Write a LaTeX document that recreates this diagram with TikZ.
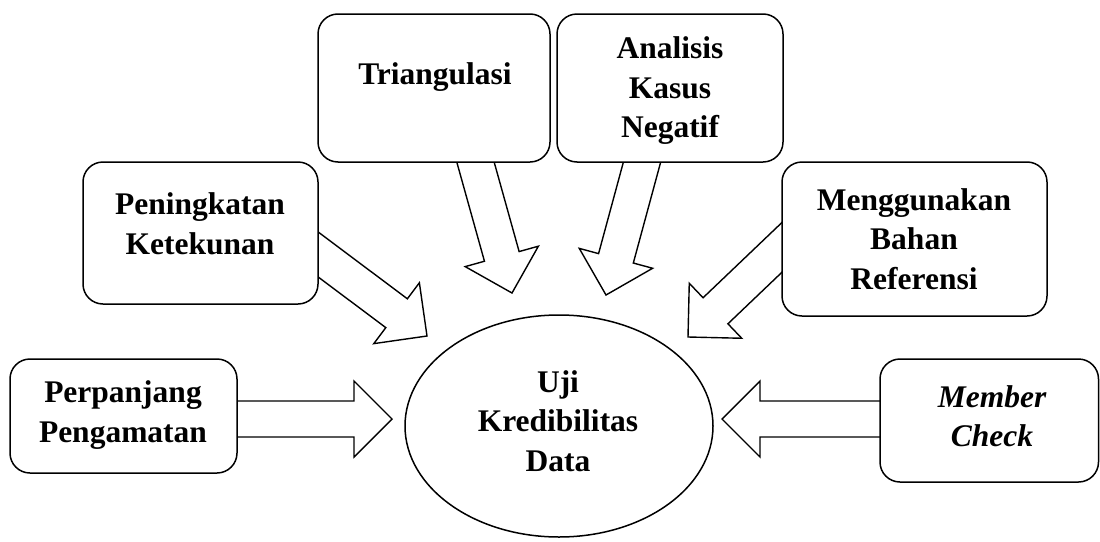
\documentclass[tikz,border=0pt]{standalone}
\usepackage{fontspec}
\setmainfont{Liberation Serif}
\usetikzlibrary{calc,shapes.geometric}
\tikzset{
  box/.style={draw, line width=1.5pt, rounded corners=20pt, fill=white, inner sep=0pt},
  lbl/.style={font=\bfseries\fontsize{31.5}{39.5}\selectfont, align=center, inner sep=0pt},
  barrow/.style={draw, line width=1.4pt, fill=white, line join=miter},
}
\newcommand\blkarrow[2]{%
  \coordinate (bs) at ($(#1)!-20pt!(#2)$);
  \coordinate (hb) at ($(#2)!38pt!(#1)$);
  \draw[barrow] ($(bs)!18pt!90:(#2)$) -- ($(hb)!18pt!90:(#2)$) -- ($(hb)!38pt!90:(#2)$) -- (#2)
     -- ($(hb)!38pt!-90:(#2)$) -- ($(hb)!18pt!-90:(#2)$) -- ($(bs)!18pt!-90:(#2)$);
}
\begin{document}
\begin{tikzpicture}[x=1pt,y=-1pt]
\useasboundingbox (0,0) rectangle (1100,541);
% box frames (positions)
\path (123.5,416) coordinate (cpp) (200.5,233) coordinate (cpk) (434,88) coordinate (ctri)
      (670,88) coordinate (cana) (914.5,239) coordinate (cmen) (989.25,420.5) coordinate (cmem);
\node[minimum width=227pt, minimum height=114pt, inner sep=0pt] (pp) at (cpp) {};
\node[minimum width=235pt, minimum height=142pt, inner sep=0pt] (pk) at (cpk) {};
\node[minimum width=232pt, minimum height=148pt, inner sep=0pt] (tri) at (ctri) {};
\node[minimum width=226pt, minimum height=148pt, inner sep=0pt] (ana) at (cana) {};
\node[minimum width=265pt, minimum height=154pt, inner sep=0pt] (men) at (cmen) {};
\node[minimum width=218.5pt, minimum height=123pt, inner sep=0pt] (mem) at (cmem) {};
\node[draw, ellipse, line width=1.5pt, minimum width=308pt, minimum height=222pt, inner sep=0pt] (uji) at (559,426) {};
% arrow ends
\coordinate (s1) at ($(pp.east)+(0,3)$);     \coordinate (t1) at (392,419);
\coordinate (s2) at ($(pk.east)+(0,21.5)$);  \coordinate (t2) at (427,336);
\coordinate (s3) at ($(tri.south)+(41.5,0)$); \coordinate (t3) at (512,293);
\coordinate (s4) at ($(ana.south)+(-28,0)$); \coordinate (t4) at (606,295);
\coordinate (s5) at ($(men.west)+(0,8.5)$);  \coordinate (t5) at (688,337);
\coordinate (s6) at ($(mem.west)+(0,-1.5)$); \coordinate (t6) at (722,419);
\blkarrow{s1}{t1}
\blkarrow{s2}{t2}
\blkarrow{s3}{t3}
\blkarrow{s4}{t4}
\blkarrow{s5}{t5}
\blkarrow{s6}{t6}
% boxes drawn over arrow tails
\node[box, minimum width=227pt, minimum height=114pt] (ppb) at (cpp) {};
\node[box, minimum width=235pt, minimum height=142pt] (pkb) at (cpk) {};
\node[box, minimum width=232pt, minimum height=148pt] (trib) at (ctri) {};
\node[box, minimum width=226pt, minimum height=148pt] (anab) at (cana) {};
\node[box, minimum width=265pt, minimum height=154pt] (menb) at (cmen) {};
\node[box, minimum width=218.5pt, minimum height=123pt] (memb) at (cmem) {};
% texts
\node[lbl] (ppt) at (123,415) {Perpanjang\\Pengamatan};
\node[lbl] (pkt) at (200,224) {Peningkatan\\Ketekunan};
\node[lbl] (trit) at (435,77) {Triangulasi};
\node[lbl] (anat) at (670,91) {Analisis\\Kasus\\Negatif};
\node[lbl] (ment) at (914,239) {Menggunakan\\Bahan\\Referensi};
\node[lbl, font=\bfseries\itshape\fontsize{31.5}{39.5}\selectfont] (memt) at (992,416) {Member\\Check};
\node[lbl] (ujit) at (558,421) {Uji\\Kredibilitas\\Data};
\end{tikzpicture}
\end{document}
